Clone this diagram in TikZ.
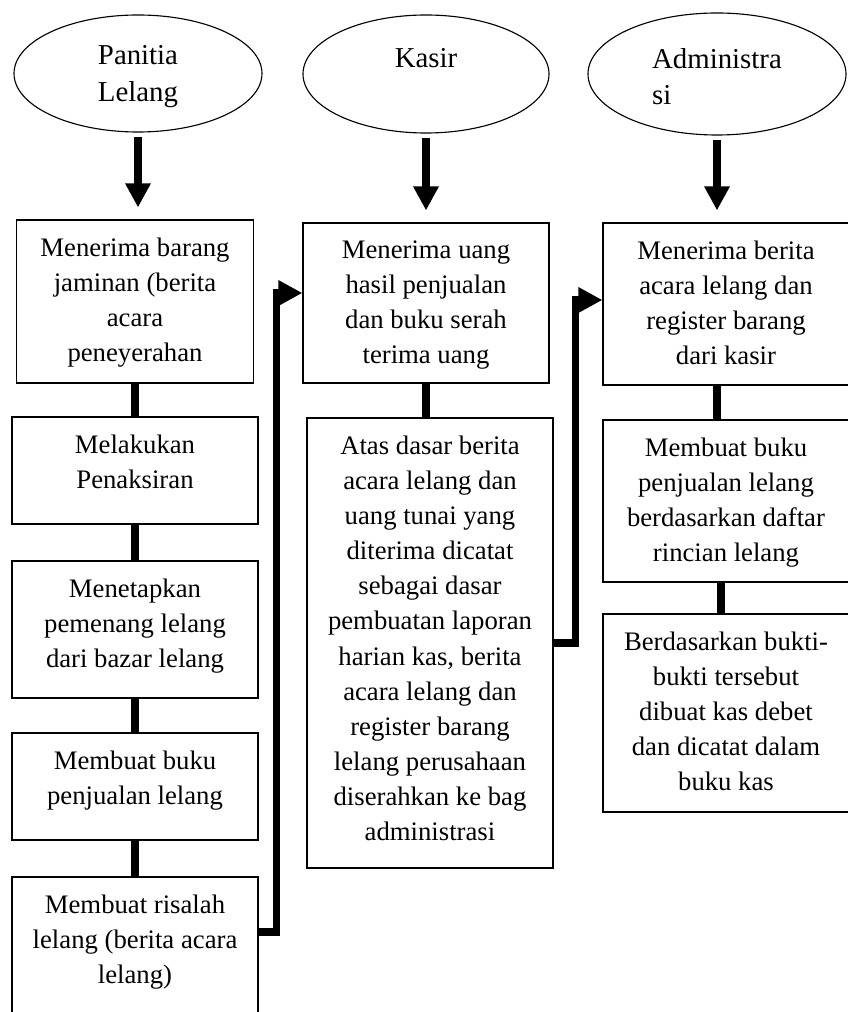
\documentclass[tikz,border=0pt]{standalone}
\usepackage{fontspec}
\setmainfont{Liberation Serif}
\usetikzlibrary{arrows.meta, shapes.geometric}

\tikzset{
	bagian/.style = {draw, thick, ellipse, inner sep = 0pt, align = center, font = \fontsize{20.5}{26.3}\selectfont},
	kotak/.style = {draw, thick, rectangle, inner sep = 0pt},
	isi/.style = {anchor = north, align = center, inner sep = 0pt, yshift = -0.45cm, font = \fontsize{19}{25}\selectfont},
	garis/.style = {line width = 5pt},
	panah/.style = {line width = 5pt, -{Triangle[length = 0.6cm, width = 0.6cm]}}
}

\begin{document}
\begin{tikzpicture}
	\useasboundingbox (0, 0) rectangle (21.2, 25.3);
	\clip (0, 0) rectangle (21.2, 25.3);
	% Ellipses
	\node[bagian, minimum width = 6.2cm, minimum height = 2.925cm] (panitia) at (3.45, 23.4625) {\rule{0pt}{18.5pt}Panitia\\Lelang};
	\node[bagian, minimum width = 6.15cm, minimum height = 2.95cm] (kasir) at (10.65, 23.45) {\rule{0pt}{16.5pt}Kasir\\\mbox{}};
	\node[bagian, align = left, minimum width = 6.45cm, minimum height = 3.05cm] (admin) at (17.925, 23.45) {\rule{0pt}{18pt}Administra\\si};
	% Boxes Panitia
	\node[kotak, minimum width = 5.925cm, minimum height = 4.075cm, label = {[isi]north:{Menerima barang\\jaminan (berita\\acara\\peneyerahan}}] (terima) at (3.375, 17.7625) {};
	\node[kotak, minimum width = 6.15cm, minimum height = 2.675cm, label = {[isi]north:{Melakukan\\Penaksiran}}] (taksir) at (3.375, 13.5375) {};
	\node[kotak, minimum width = 6.15cm, minimum height = 3.425cm, label = {[isi]north:{Menetapkan\\pemenang lelang\\dari bazar lelang}}] (tetapkan) at (3.375, 9.5625) {};
	\node[kotak, minimum width = 6.15cm, minimum height = 2.675cm, label = {[isi]north:{Membuat buku\\penjualan lelang}}] (bukujual) at (3.375, 5.6375) {};
	\node[kotak, minimum width = 6.15cm, minimum height = 3.875cm, label = {[isi]north:{Membuat risalah\\lelang (berita acara\\lelang)}}] (risalah) at (3.375, 1.4375) {};
	% Boxes Kasir
	\node[kotak, minimum width = 6.15cm, minimum height = 4cm, label = {[isi]north:{Menerima uang\\hasil penjualan\\dan buku serah\\terima uang}}] (uang) at (10.65, 17.725) {};
	\node[kotak, minimum width = 6.15cm, minimum height = 11.25cm, label = {[isi]north:{Atas dasar berita\\acara lelang dan\\uang tunai yang\\diterima dicatat\\sebagai dasar\\pembuatan laporan\\harian kas, berita\\acara lelang dan\\register barang\\lelang perusahaan\\diserahkan ke bag\\administrasi}}] (catat) at (10.75, 9.225) {};
	% Boxes Administrasi
	\node[kotak, minimum width = 6.15cm, minimum height = 4.05cm, label = {[isi]north:{Menerima berita\\acara lelang dan\\register barang\\dari kasir}}] (berita) at (18.15, 17.7) {};
	\node[kotak, minimum width = 6.15cm, minimum height = 4.05cm, label = {[isi]north:{Membuat buku\\penjualan lelang\\berdasarkan daftar\\rincian lelang}}] (bukuadm) at (18.15, 12.775) {};
	\node[kotak, minimum width = 6.15cm, minimum height = 4.95cm, label = {[isi]north:{Berdasarkan bukti-\\bukti tersebut\\dibuat kas debet\\dan dicatat dalam\\buku kas}}] (kasdebet) at (18.15, 7.475) {};
	% Arrows
	\draw[panah, shorten < = 0.1cm, shorten > = 0.3cm] (panitia.south) -- (panitia.south |- terima.north);
	\draw[panah, shorten < = 0.1cm, shorten > = 0.3cm] (kasir.south) -- (kasir.south |- uang.north);
	\draw[panah, shorten < = 0.1cm, shorten > = 0.3cm] (admin.south) -- (admin.south |- berita.north);
	% Lines
	\draw[garis] (terima) -- (taksir);
	\draw[garis] (taksir) -- (tetapkan);
	\draw[garis] (tetapkan) -- (bukujual);
	\draw[garis] (bukujual) -- (risalah);
	\draw[garis] (uang.south) -- (uang.south |- catat.north);
	\draw[garis] (admin.south |- berita.south) -- (admin.south |- bukuadm.north);
	\draw[garis] ([xshift = -0.125cm]bukuadm.south) -- ([xshift = -0.125cm]kasdebet.north);
	% Cross arrows
	\draw[panah] ([yshift = 0.5625cm]risalah.east) -- ++(0.45, 0) |- ([yshift = 0.25cm]uang.west);
	\draw[panah] (catat.east) -- ++(0.55, 0) |- ([yshift = 0.1cm]berita.west);
\end{tikzpicture}
\end{document}
